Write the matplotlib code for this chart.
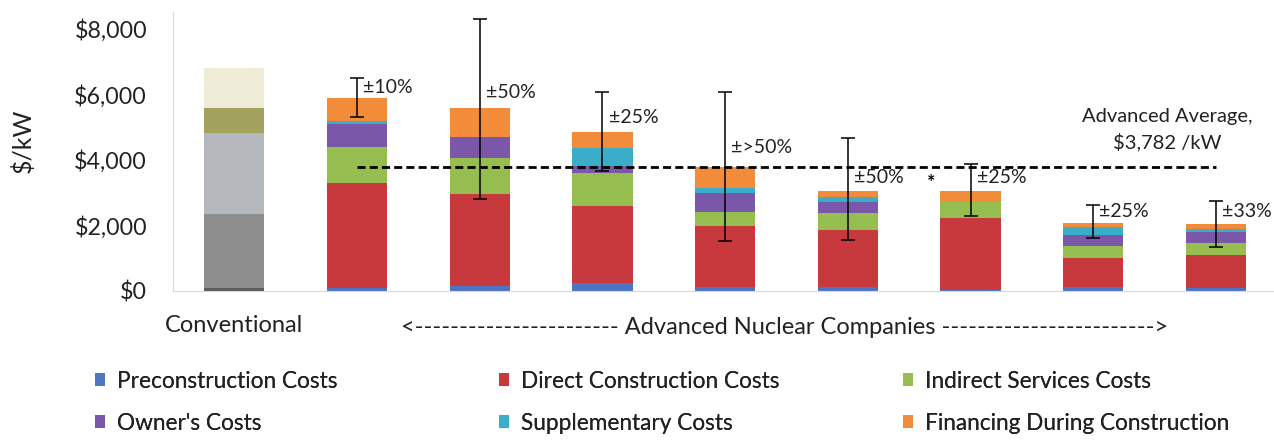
import matplotlib.pyplot as plt
import numpy as np

plt.rcParams['font.family'] = ['Lato', 'DejaVu Sans']

# segment values, $/kW (bars 1..8 are the advanced nuclear companies)
categories = ['Preconstruction Costs', 'Direct Construction Costs', 'Indirect Services Costs',
              "Owner's Costs", 'Supplementary Costs', 'Financing During Construction']
colors = ['#4f74c4', '#c8393e', '#96bd4f', '#7a57a8', '#3aaec8', '#f28c3a']

preconstruction = [100, 150, 250, 120, 120, 30, 120, 100]
direct = [3190, 2800, 2340, 1860, 1740, 2190, 880, 1000]
indirect = [1100, 1100, 1010, 430, 520, 520, 370, 370]
owners = [700, 650, 200, 590, 330, 0, 330, 330]
supplementary = [90, 0, 560, 140, 160, 0, 250, 90]
financing = [700, 870, 490, 640, 180, 310, 130, 150]

err_low = [5300, 2800, 3660, 1530, 1560, 2290, 1610, 1350]
err_high = [6490, 8290, 6070, 6070, 4670, 3870, 2620, 2740]
err_labels = ['±10%', '±50%', '±25%', '±>50%', '±50%', '±25%', '±25%', '±33%']
label_y = [6190, 6040, 5300, 4360, 3450, 3450, 2410, 2410]

# conventional bar, faded grey segments
conv_values = [80, 2270, 2470, 760, 1220]
conv_colors = ['#5c5c5c', '#8d8d8d', '#b4b7bc', '#a2a25e', '#eeebd6']

average = 3782

fig = plt.figure(figsize=(12.74, 4.41), dpi=100)
ax = fig.add_axes([173 / 1274, 1 - 291 / 441, 1100.6 / 1274, 278.8 / 441])

width = 0.49
bottom = 0
for v, c in zip(conv_values, conv_colors):
    ax.bar(0, v, width, bottom=bottom, color=c, linewidth=0)
    bottom += v

series = [preconstruction, direct, indirect, owners, supplementary, financing]
x = np.arange(1, 9)
bottoms = np.zeros(8)
handles = []
for s, c, name in zip(series, colors, categories):
    h = ax.bar(x, s, width, bottom=bottoms, color=c, linewidth=0, label=name)
    handles.append(h)
    bottoms += np.array(s)

lo = np.array(err_low)
hi = np.array(err_high)
mid = (lo + hi) / 2
ax.errorbar(x, mid, yerr=(hi - lo) / 2, fmt='none', ecolor='black', elinewidth=1.1,
            capsize=5, capthick=1.1, zorder=5)
for xi, lab, ly in zip(x, err_labels, label_y):
    ax.text(xi + 0.05, ly, lab, fontsize=14, ha='left', va='center', color='#222222')

ax.plot([1, 8], [average, average], color='black', lw=2, linestyle=(0, (2.9, 1.5)), zorder=6)
ax.text(7.60, 4910, 'Advanced Average,\n$3,782 /kW', fontsize=14.5, ha='center', va='center',
        linespacing=1.5, color='#222222')
ax.text(5.68, 3300, '*', fontsize=14, ha='center', va='center', fontweight='bold')

ax.set_xlim(-0.5, 8.47)
ax.set_ylim(0, 8500)
ax.set_yticks([0, 2000, 4000, 6000, 8000])
ax.set_yticklabels(['$0', '$2,000', '$4,000', '$6,000', '$8,000'], fontsize=16.7, color='#222222')
ax.tick_params(axis='y', length=0, pad=18.7)
ax.set_xticks([])
ax.set_ylabel('$/kW', fontsize=18, color='#222222')
ax.yaxis.set_label_coords(-0.1254, 0.538)
for sp in ['top', 'right']:
    ax.spines[sp].set_visible(False)
for sp in ['left', 'bottom']:
    ax.spines[sp].set_color('#d9d9d9')

fig.text(234 / 1274, 1 - 326 / 441, 'Conventional', fontsize=17, ha='center', va='center',
         color='#222222')
fig.text(785 / 1274, 1 - 328 / 441,
         '<' + '-' * 23 + ' Advanced Nuclear Companies ' + '-' * 24 + '>',
         fontsize=17, ha='center', va='center', color='#222222')

legend_x = [95, 499, 903]
for i, lx in enumerate(legend_x):
    leg = fig.legend([handles[i], handles[i + 3]], [categories[i], categories[i + 3]],
                     loc='upper left', bbox_to_anchor=(lx / 1274, 1 - 370.5 / 441), frameon=False,
                     fontsize=16.3, handlelength=0.45, handleheight=0.45, handletextpad=0.5,
                     labelspacing=0.93, borderpad=0, borderaxespad=0, labelcolor='#222222')
    fig.add_artist(leg)

fig.savefig('out.png', dpi=100)
